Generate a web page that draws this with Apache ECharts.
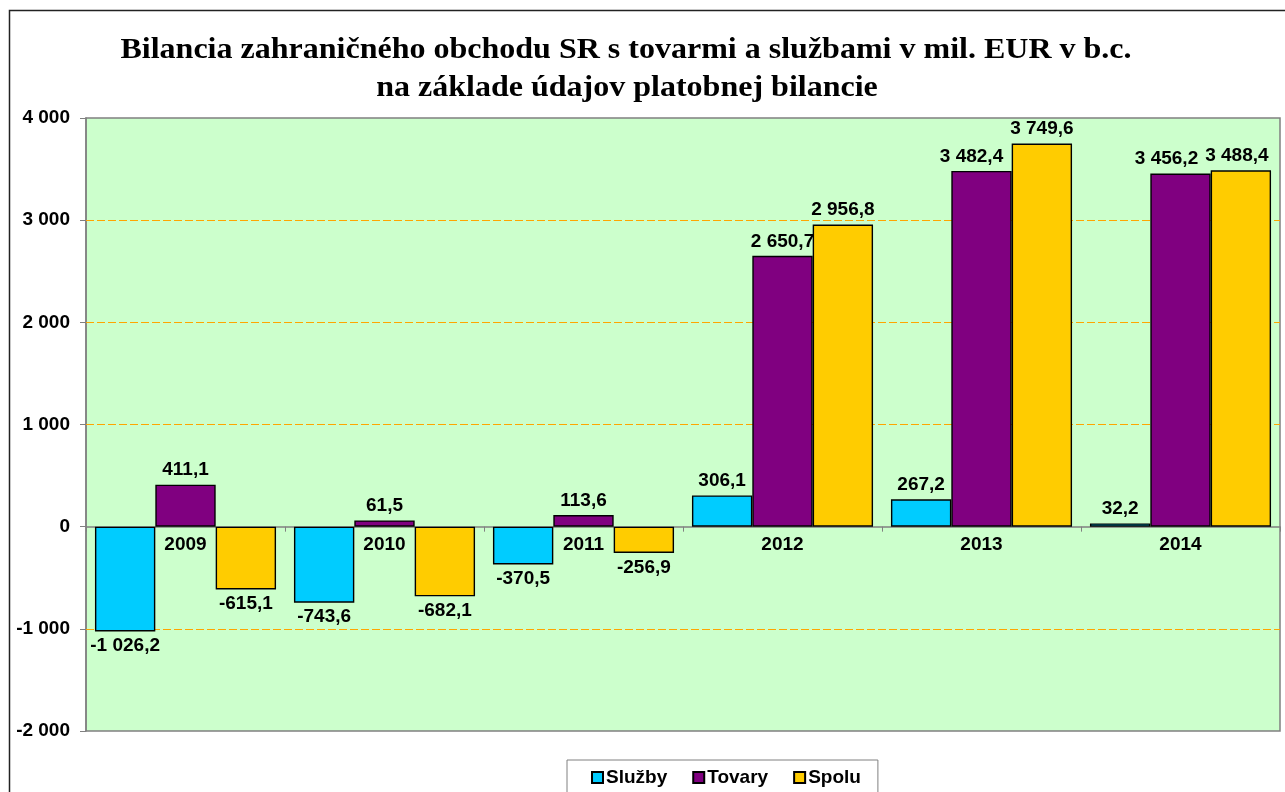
<!DOCTYPE html>
<html><head><meta charset="utf-8">
<script src="https://cdn.jsdelivr.net/npm/echarts@6/dist/echarts.min.js"></script>
<style>html,body{margin:0;padding:0;background:#fff}#c{width:1285px;height:792px}</style>
</head><body><div id="c"></div>
<script>
var categories = ['2009','2010','2011','2012','2013','2014'];
var sluzby = [-1026.2, -743.6, -370.5, 306.1, 267.2, 32.2];
var tovary = [411.1, 61.5, 113.6, 2650.7, 3482.4, 3456.2];
var spolu = [-615.1, -682.1, -256.9, 2956.8, 3749.6, 3488.4];
var seriesNames = ['Služby','Tovary','Spolu'];
var gridLineValues = [-1000, 1000, 2000, 3000];
var titleLines = ['Bilancia zahraničného obchodu SR s tovarmi a službami v mil. EUR v b.c.','na základe údajov platobnej bilancie'];

function grp(intStr){ return intStr.replace(/\B(?=(\d{3})+(?!\d))/g,' '); }
function fmtVal(v){
  var s = Math.abs(v).toFixed(1).split('.');
  return (v<0?'-':'') + grp(s[0]) + ',' + s[1];
}
function fmtAxis(v){ return (v<0?'-':'') + grp(String(Math.abs(v))); }
// label nudges (style only) to keep crowded labels apart, as in the original
var labelNudge = {'1-4':[-10,0], '1-5':[-14,0], '2-5':[-4,0]};
function mk(arr, si){
  return arr.map(function(v, k){
    var lb = {position: v<0?'bottom':'top'};
    if (labelNudge[si+'-'+k]) lb.offset = labelNudge[si+'-'+k];
    return {value:v, label:lb};
  });
}
var colors = ['#00CCFF','#800080','#FFCC00'];
var datasets = [sluzby, tovary, spolu];
var FS = 19;
var labelFont = {fontFamily:'Liberation Sans, Arial', fontWeight:'bold', fontSize:FS, color:'#000'};
var titleFont = 'bold 30px "Liberation Serif", "Times New Roman", serif';

var chart = echarts.init(document.getElementById('c'));
var option = {
  animation:false,
  graphic:[
    {type:'rect', shape:{x:9.5,y:10.5,width:1300,height:820}, style:{fill:'none', stroke:'#222', lineWidth:1.5}, z:-10},
    {type:'text', x:626, y:50, scaleX:1.067, style:{text:titleLines[0], font:titleFont, fill:'#000', textAlign:'center', textVerticalAlign:'middle'}},
    {type:'text', x:627, y:88, scaleX:1.067, style:{text:titleLines[1], font:titleFont, fill:'#000', textAlign:'center', textVerticalAlign:'middle'}}
  ],
  legend:{data:seriesNames, left:567, top:760, orient:'horizontal',
    padding:[8,17,12,24], itemGap:25, itemWidth:11, itemHeight:11, icon:'rect',
    borderColor:'#808080', borderWidth:1,
    textStyle:{fontFamily:'Liberation Sans, Arial', fontWeight:'bold', fontSize:FS, color:'#000', padding:[0,0,0,-2]}},
  grid:{left:86, right:5, top:118, bottom:61, show:true, backgroundColor:'#CCFFCC', borderColor:'#808080', borderWidth:1.5},
  xAxis:{type:'category', data:categories, position:'bottom', offset:0,
    splitLine:{show:false},
    axisLine:{onZero:false, lineStyle:{color:'#808080', width:1.5}},
    axisTick:{show:true, length:5, lineStyle:{color:'#808080'}},
    axisLabel:Object.assign({margin:9}, labelFont)},
  yAxis:{type:'value', min:-2000, max:4000, interval:1000,
    axisLine:{show:true, lineStyle:{color:'#808080', width:1.5}},
    axisTick:{show:true, length:6, lineStyle:{color:'#808080'}},
    axisLabel:Object.assign({margin:16, formatter:fmtAxis}, labelFont),
    splitLine:{show:false}},
  series: seriesNames.map(function(n,i){
    var s = {name:n, type:'bar', data:mk(datasets[i], i), barGap:'0%', barCategoryGap:'9%',
      itemStyle:{color:colors[i], borderColor:'#000', borderWidth:1.4},
      label:Object.assign({show:true, distance:5, formatter:function(p){return fmtVal(p.value);}}, labelFont)};
    if (i === 0) {
      s.markLine = {silent:true, symbol:['none','none'], z:1, animation:false,
        label:{show:false},
        lineStyle:{type:[8,3], width:1, color:'#FFA500'},
        emphasis:{disabled:true},
        data: gridLineValues.map(function(v){ return {yAxis:v}; })};
    }
    return s;
  })
};
chart.setOption(option);
var y0 = chart.convertToPixel({yAxisIndex:0}, 0);
var yb = chart.convertToPixel({yAxisIndex:0}, -2000);
chart.setOption({xAxis:{offset: y0 - yb}});
</script></body></html>
